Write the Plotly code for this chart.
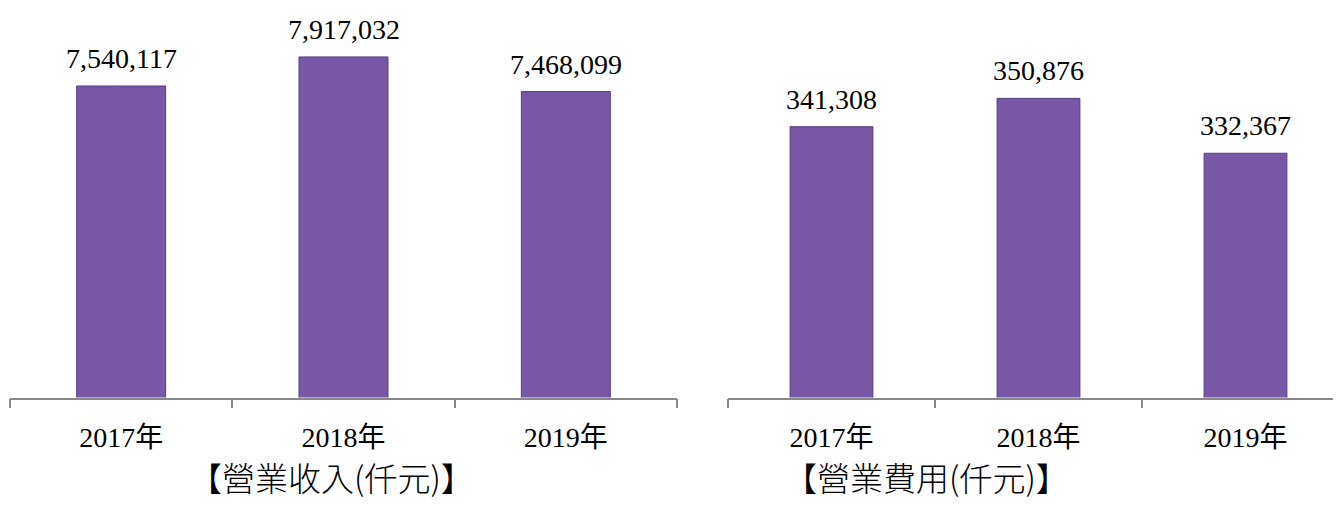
import plotly.graph_objects as go

years = ["2017年", "2018年", "2019年"]
revenue = [7540117, 7917032, 7468099]
expense = [341308, 350876, 332367]
title_left = "【營業收入(仟元)】"
title_right = "【營業費用(仟元)】"

BAR_FILL = "#7857A7"
BAR_LINE = "#563C80"
AXIS_COL = "#888888"
SERIF = "Liberation Serif, 'Times New Roman', 'Noto Sans CJK TC', serif"
CJK = "'Noto Sans CJK TC', 'Liberation Serif', serif"

# page has an 8px body margin; figure is sized to fill the rest of the window
OFF = 8
W, H = 1341 - OFF, 505 - OFF


def px_x(x):
    return (x - OFF) / W


def px_y(y):
    return 1 - (y - OFF) / H


fig = go.Figure()

fig.add_trace(go.Bar(x=years, y=revenue, width=0.4, xaxis="x", yaxis="y",
                     marker=dict(color=BAR_FILL, line=dict(color=BAR_LINE, width=1)),
                     hoverinfo="skip"))
fig.add_trace(go.Bar(x=years, y=expense, width=0.4, xaxis="x2", yaxis="y2",
                     marker=dict(color=BAR_FILL, line=dict(color=BAR_LINE, width=1)),
                     hoverinfo="skip"))

annotations = []
for xs, ys, xr, yr in [(years, revenue, "x", "y"), (years, expense, "x2", "y2")]:
    for xv, yv in zip(xs, ys):
        annotations.append(dict(x=xv, y=yv, xref=xr, yref=yr, text=f"{yv:,}",
                                showarrow=False, yanchor="bottom", yshift=10,
                                font=dict(family=SERIF, size=28, color="#000000")))

annotations.append(dict(x=px_x(331), y=px_y(503), xref="paper", yref="paper",
                        text=title_left, showarrow=False, xanchor="center", yanchor="bottom",
                        font=dict(family=CJK, size=33, weight=300, color="#000000")))
annotations.append(dict(x=px_x(926), y=px_y(503), xref="paper", yref="paper",
                        text=title_right, showarrow=False, xanchor="center", yanchor="bottom",
                        font=dict(family=CJK, size=33, weight=300, color="#000000")))

ydom = [px_y(397.5), px_y(12)]
xaxis_common = dict(type="category", showline=True, linecolor=AXIS_COL, linewidth=1.5,
                    ticks="outside", ticklen=9, tickwidth=1.5, tickcolor=AXIS_COL,
                    tickson="boundaries", showgrid=False, zeroline=False,
                    ticklabelstandoff=14,
                    tickfont=dict(family=SERIF, size=28, color="#000000"))
yaxis_common = dict(showticklabels=False, showgrid=False, zeroline=False,
                    showline=False, ticks="", domain=ydom)

fig.update_layout(
    width=W, height=H,
    margin=dict(l=0, r=0, t=0, b=0),
    paper_bgcolor="white", plot_bgcolor="white",
    showlegend=False,
    xaxis=dict(domain=[px_x(10), px_x(677)], range=[-0.5, 2.5], anchor="y", **xaxis_common),
    yaxis=dict(range=[3500000, 8500000], anchor="x", **yaxis_common),
    xaxis2=dict(domain=[px_x(728), 1.0], range=[-0.5, 2.5 - 8 / 207], anchor="y2", **xaxis_common),
    yaxis2=dict(range=[250000, 380000], anchor="x2", **yaxis_common),
    annotations=annotations,
)

fig.write_html("out.html")
